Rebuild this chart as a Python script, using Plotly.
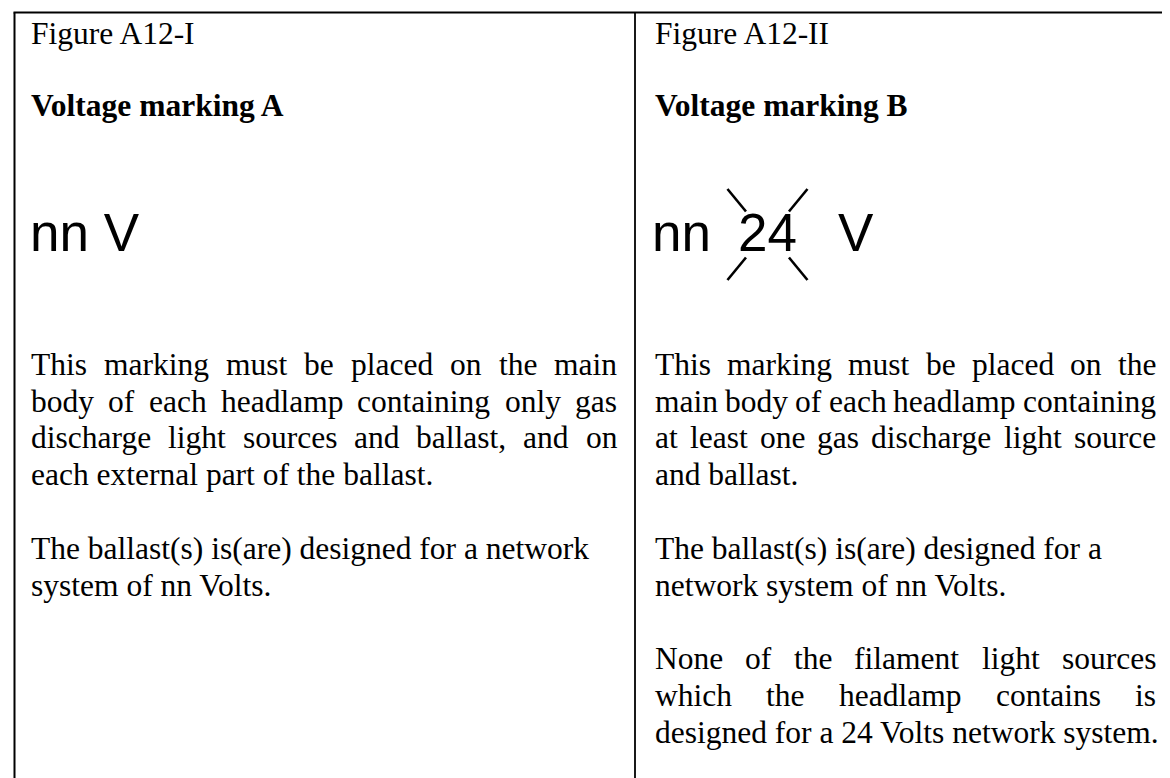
import plotly.graph_objects as go

W, H = 1170, 778

# ---------------- content ----------------
figure_labels = ["Figure A12-I", "Figure A12-II"]
headings = ["Voltage marking A", "Voltage marking B"]
marking_a = "nn V"
marking_b = ["nn", "24", "V"]
left_paragraphs = [
    (["This marking must be placed on the main",
      "body of each headlamp containing only gas",
      "discharge light sources and ballast, and on",
      "each external part of the ballast."], True),
    (["The ballast(s) is(are) designed for a network",
      "system of nn Volts."], False),
]
right_paragraphs = [
    (["This marking must be placed on the",
      "main body of each headlamp containing",
      "at least one gas discharge light source",
      "and ballast."], True),
    (["The ballast(s) is(are) designed for a",
      "network system of nn Volts."], False),
    (["None of the filament light sources",
      "which the headlamp contains is",
      "designed for a 24 Volts network system."], True),
]

# ---------------- layout constants ----------------
SERIF = "Liberation Serif, Times New Roman, serif"
SANS = "Liberation Sans, Arial, sans-serif"
BODY = 31.5
MARK = 53
LINE = 36.8
LEFT_COL = (23, 609)
RIGHT_COL = (647, 1148)
DIVIDER_X = 627
BORDER_X = 6.5
TOP_Y = 4.5
FIG_BASE = 36
HEAD_BASE = 108
MARK_BASE = 243
PARA_BASE = 367

# Times-Roman advance widths (per 1000 em)
TW = {' ': 250, '(': 333, ')': 333, ',': 250, '-': 333, '.': 250}
TW.update({c: 500 for c in "0123456789"})
TW.update(dict(zip("ABCDEFGHIJKLMNOPQRSTUVWXYZ",
                   [722, 667, 667, 722, 611, 556, 722, 722, 333, 389, 722, 611, 889,
                    722, 722, 556, 722, 667, 556, 611, 722, 722, 944, 722, 722, 611])))
TW.update(dict(zip("abcdefghijklmnopqrstuvwxyz",
                   [444, 500, 444, 500, 444, 333, 500, 500, 278, 278, 500, 278, 778,
                    500, 500, 500, 500, 333, 389, 278, 500, 500, 722, 500, 500, 444])))


def tw(s, size):
    return sum(TW.get(c, 500) for c in s) / 1000.0 * size


fig = go.Figure()
annotations = []


def add_text(x, baseline, text, size, family, k=0.3375):
    annotations.append(dict(
        x=x, y=baseline - k * size, xref="x", yref="y", text=text,
        showarrow=False, xanchor="left", yanchor="middle",
        font=dict(family=family, size=size, color="black"),
        borderpad=0, borderwidth=0,
    ))


def add_paragraphs(paragraphs, col):
    row = 0
    for lines, justify in paragraphs:
        for i, line in enumerate(lines):
            base = PARA_BASE + row * LINE
            last = i == len(lines) - 1
            if justify and not last:
                words = line.split(" ")
                total = sum(tw(w, BODY) for w in words)
                gap = (col[1] - col[0] - total) / (len(words) - 1)
                x = col[0]
                for w in words:
                    add_text(x, base, w, BODY, SERIF)
                    x += tw(w, BODY) + gap
            else:
                add_text(col[0], base, line, BODY, SERIF)
            row += 1
        row += 1


# headings
for col, lab, head in zip((LEFT_COL, RIGHT_COL), figure_labels, headings):
    add_text(col[0], FIG_BASE, lab, BODY, SERIF)
    add_text(col[0], HEAD_BASE, "<b>" + head + "</b>", BODY, SERIF)

# markings
add_text(LEFT_COL[0] - 1, MARK_BASE, marking_a, MARK, SANS, k=0.3465)
mb_x = [RIGHT_COL[0] - 3, RIGHT_COL[0] + 83, RIGHT_COL[0] + 183]
for x, t in zip(mb_x, marking_b):
    add_text(x, MARK_BASE, t, MARK, SANS, k=0.3465)

add_paragraphs(left_paragraphs, LEFT_COL)
add_paragraphs(right_paragraphs, RIGHT_COL)

# ---------------- lines ----------------
shapes = [
    dict(type="line", x0=BORDER_X - 1, x1=W, y0=TOP_Y, y1=TOP_Y, line=dict(color="black", width=2.2)),
    dict(type="line", x0=BORDER_X, x1=BORDER_X, y0=TOP_Y, y1=H, line=dict(color="black", width=2)),
    dict(type="line", x0=DIVIDER_X, x1=DIVIDER_X, y0=TOP_Y, y1=H, line=dict(color="black", width=1.8)),
]
# cross strokes around the "24" (Arial digits ~0.556 em wide)
cx = mb_x[1] + len(marking_b[1]) * 0.556 * MARK / 2
cy = MARK_BASE - 16.5
for sx in (-1, 1):
    for sy in (-1, 1):
        shapes.append(dict(type="line",
                           x0=cx + sx * 40, y0=cy + sy * 45.5,
                           x1=cx + sx * 21.5, y1=cy + sy * 23,
                           line=dict(color="black", width=2.6)))

fig.update_layout(
    width=W, height=H,
    margin=dict(l=0, r=0, t=0, b=0),
    paper_bgcolor="white", plot_bgcolor="white",
    xaxis=dict(range=[0, W], visible=False, fixedrange=True),
    yaxis=dict(range=[H, 0], visible=False, fixedrange=True),
    annotations=annotations,
    shapes=shapes,
    showlegend=False,
)

fig.write_html("out.html", config={"displayModeBar": False})
